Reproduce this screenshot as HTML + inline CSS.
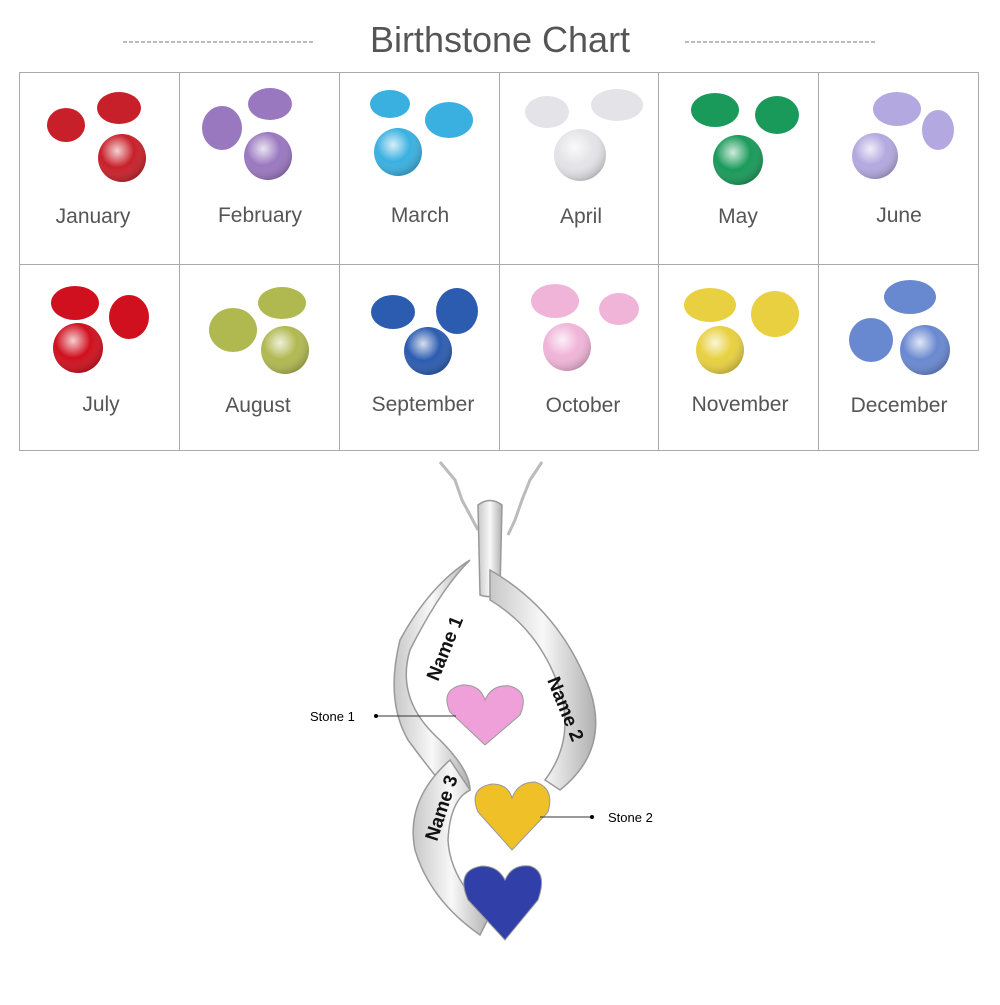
<!DOCTYPE html>
<html><head><meta charset="utf-8"><style>
body{margin:0;background:#fff;width:1000px;height:1000px;overflow:hidden;font-family:"Liberation Sans",sans-serif}
</style></head><body>
<svg width="1000" height="1000" viewBox="0 0 1000 1000" xmlns="http://www.w3.org/2000/svg" font-family="Liberation Sans, sans-serif">
<defs>
<radialGradient id="g" cx="40%" cy="35%" r="70%"><stop offset="0" stop-color="#fff" stop-opacity=".8"/><stop offset=".5" stop-color="#fff" stop-opacity="0"/><stop offset="1" stop-color="#000" stop-opacity=".25"/></radialGradient>
<linearGradient id="s" x1="0" x2="1"><stop offset="0" stop-color="#c8c8c8"/><stop offset=".5" stop-color="#f8f8f8"/><stop offset="1" stop-color="#b0b0b0"/></linearGradient>
</defs>
<text x="500" y="52" text-anchor="middle" font-size="36" fill="#555">Birthstone Chart</text>
<line x1="123" y1="42" x2="315" y2="42" stroke="#777" stroke-dasharray="4,2"/>
<line x1="685" y1="42" x2="877" y2="42" stroke="#777" stroke-dasharray="4,2"/>
<g stroke="#aaa" fill="none">
<rect x="19.5" y="72.5" width="959" height="378"/>
<line x1="19" y1="264.5" x2="979" y2="264.5"/>
<line x1="179.5" y1="72" x2="179.5" y2="451"/><line x1="339.5" y1="72" x2="339.5" y2="451"/>
<line x1="499.5" y1="72" x2="499.5" y2="451"/><line x1="658.5" y1="72" x2="658.5" y2="451"/>
<line x1="818.5" y1="72" x2="818.5" y2="451"/>
</g>
<g id="gems">
<!-- row1 -->
<g fill="#c8202a"><ellipse cx="66" cy="125" rx="19" ry="17"/><ellipse cx="119" cy="108" rx="22" ry="16"/><circle cx="122" cy="158" r="24"/></g>
<g fill="#9a78c0"><ellipse cx="222" cy="128" rx="20" ry="22"/><ellipse cx="270" cy="104" rx="22" ry="16"/><circle cx="268" cy="156" r="24"/></g>
<g fill="#3ab0e0"><ellipse cx="390" cy="104" rx="20" ry="14"/><ellipse cx="449" cy="120" rx="24" ry="18"/><circle cx="398" cy="152" r="24"/></g>
<g fill="#e4e4e8"><ellipse cx="547" cy="112" rx="22" ry="16"/><ellipse cx="617" cy="105" rx="26" ry="16"/><circle cx="580" cy="155" r="26"/></g>
<g fill="#1a9a5a"><ellipse cx="715" cy="110" rx="24" ry="17"/><ellipse cx="777" cy="115" rx="22" ry="19"/><circle cx="738" cy="160" r="25"/></g>
<g fill="#b4a8e0"><ellipse cx="897" cy="109" rx="24" ry="17"/><ellipse cx="938" cy="130" rx="16" ry="20"/><circle cx="875" cy="156" r="23"/></g>
<!-- row2 -->
<g fill="#d0101e"><ellipse cx="75" cy="303" rx="24" ry="17"/><ellipse cx="129" cy="317" rx="20" ry="22"/><circle cx="78" cy="348" r="25"/></g>
<g fill="#b0b850"><ellipse cx="233" cy="330" rx="24" ry="22"/><ellipse cx="282" cy="303" rx="24" ry="16"/><circle cx="285" cy="350" r="24"/></g>
<g fill="#2c5cb0"><ellipse cx="393" cy="312" rx="22" ry="17"/><ellipse cx="457" cy="311" rx="21" ry="23"/><circle cx="428" cy="351" r="24"/></g>
<g fill="#f0b4d8"><ellipse cx="555" cy="301" rx="24" ry="17"/><ellipse cx="619" cy="309" rx="20" ry="16"/><circle cx="567" cy="347" r="24"/></g>
<g fill="#e8d040"><ellipse cx="710" cy="305" rx="26" ry="17"/><ellipse cx="775" cy="314" rx="24" ry="23"/><circle cx="720" cy="350" r="24"/></g>
<g fill="#6888d0"><ellipse cx="910" cy="297" rx="26" ry="17"/><ellipse cx="871" cy="340" rx="22" ry="22"/><circle cx="925" cy="350" r="25"/></g>
</g>
<g fill="url(#g)">
<circle cx="122" cy="158" r="24"/><circle cx="268" cy="156" r="24"/><circle cx="398" cy="152" r="24"/><circle cx="580" cy="155" r="26"/><circle cx="738" cy="160" r="25"/><circle cx="875" cy="156" r="23"/>
<circle cx="78" cy="348" r="25"/><circle cx="285" cy="350" r="24"/><circle cx="428" cy="351" r="24"/><circle cx="567" cy="347" r="24"/><circle cx="720" cy="350" r="24"/><circle cx="925" cy="350" r="25"/>
</g>
<g font-size="21" fill="#555" text-anchor="middle">
<text x="93" y="223">January</text><text x="260" y="222">February</text><text x="420" y="222">March</text>
<text x="581" y="223">April</text><text x="738" y="223">May</text><text x="899" y="222">June</text>
<text x="101" y="411">July</text><text x="258" y="412">August</text><text x="423" y="411">September</text>
<text x="583" y="412">October</text><text x="740" y="411">November</text><text x="899" y="412">December</text>
</g>
<!-- chain -->
<g stroke="#bbb" stroke-width="3" fill="none">
<path d="M440 462 L455 480 L462 500 L470 515 L478 530"/>
<path d="M542 462 L530 480 L522 500 L515 520 L508 535"/>
</g>
<!-- pendant -->
<g stroke="#999" stroke-width="1.5" fill="url(#s)">
<path d="M478 505 Q490 496 502 505 L500 590 Q495 600 480 595 Z"/>
<path d="M470 560 Q440 590 410 650 Q395 700 440 740 Q470 770 470 790 L455 800 Q430 770 408 740 Q385 700 400 640 Q430 585 470 560 Z"/>
<path d="M490 570 Q560 610 590 690 Q610 750 560 790 L545 780 Q575 740 560 690 Q540 630 490 600 Z"/>
<path d="M450 760 Q405 800 415 850 Q430 900 480 935 L490 915 Q450 880 448 840 Q450 800 470 790 Z"/>
</g>
<g font-size="19" fill="#111" font-weight="bold">
<text transform="translate(438 682) rotate(-68)">Name 1</text>
<text transform="translate(547 680) rotate(68)">Name 2</text>
<text transform="translate(437 842) rotate(-72)">Name 3</text>
</g>
<path d="M485 745 L450 712 Q440 690 462 685 Q480 684 485 700 Q492 684 510 686 Q530 692 520 715 Z" fill="#f0a0d8" stroke="#999"/>
<path d="M512 850 L478 812 Q468 788 492 784 Q508 784 512 798 Q518 782 535 782 Q555 788 548 812 Z" fill="#f0c028" stroke="#999"/>
<path d="M505 940 L468 900 Q455 870 482 866 Q498 866 505 880 Q512 864 530 866 Q548 872 538 900 Z" fill="#3040a8" stroke="#999"/>
<line x1="376" y1="716" x2="456" y2="716" stroke="#333"/><circle cx="376" cy="716" r="2" fill="#000"/>
<line x1="540" y1="817" x2="592" y2="817" stroke="#333"/><circle cx="592" cy="817" r="2" fill="#000"/>
<text x="310" y="721" font-size="13" fill="#000">Stone 1</text>
<text x="608" y="822" font-size="13" fill="#000">Stone 2</text>
</svg>
</body></html>
